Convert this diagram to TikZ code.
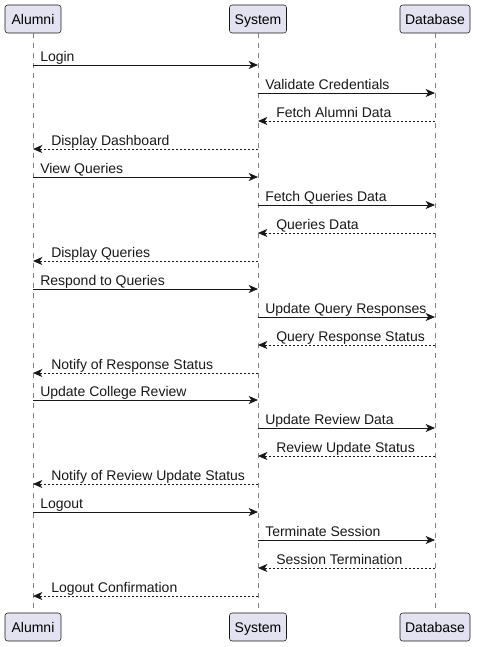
\documentclass[tikz,border=0pt]{standalone}
\usepackage{fontspec}
\setmainfont{Liberation Sans}
\usetikzlibrary{arrows.meta,calc}
\definecolor{boxfill}{HTML}{E2E2F0}
\definecolor{ink}{HTML}{181818}
\begin{document}
\begin{tikzpicture}[x=0.75pt,y=-0.75pt,
  party/.style={draw=ink,fill=boxfill,rounded corners=2pt,minimum height=21pt,inner xsep=0pt,text height=7.6pt,text depth=0pt,font=\fontsize{10.5}{12}\selectfont},
  life/.style={draw=ink!55,dash pattern=on 3.75pt off 3.75pt,line width=0.5pt},
  msg/.style={draw=ink,-{Stealth[length=7pt,width=6pt,inset=2pt]},line width=0.6pt},
  ret/.style={msg,dash pattern=on 1.5pt off 1.5pt},
  lbl/.style={font=\fontsize{10.5}{12}\selectfont,anchor=base west,inner sep=0pt,text=ink}]
\useasboundingbox (0,0) rectangle (476,647);
\node[party,minimum width=42pt] (alumniTop) at (33,19) {Alumni};
\node[party,minimum width=42.75pt] (systemTop) at (258,19) {System};
\node[party,minimum width=52.5pt] (dbTop) at (435,19) {Database};
\node[party,minimum width=42pt] (alumniBot) at (33,627) {Alumni};
\node[party,minimum width=42.75pt] (systemBot) at (258,627) {System};
\node[party,minimum width=52.5pt] (dbBot) at (435,627) {Database};
\draw[life] (alumniTop) -- (alumniBot);
\draw[life] (systemTop) -- (systemBot);
\draw[life] (dbTop) -- (dbBot);
% requests
\foreach \y/\s/\t/\txt in {65/alumniTop/systemTop/Login,
    93/systemTop/dbTop/Validate Credentials,
    177/alumniTop/systemTop/View Queries,
    205/systemTop/dbTop/Fetch Queries Data,
    289/alumniTop/systemTop/Respond to Queries,
    317/systemTop/dbTop/Update Query Responses,
    400/alumniTop/systemTop/Update College Review,
    428/systemTop/dbTop/Update Review Data,
    512/alumniTop/systemTop/Logout,
    540/systemTop/dbTop/Terminate Session}{
  \draw[msg] (\s |- 0,\y) coordinate (from) -- (\t |- 0,\y);
  \node[lbl] at ($(from)+(7,-4)$) {\txt};
}
% replies
\foreach \y/\s/\t/\txt in {121/dbTop/systemTop/Fetch Alumni Data,
    149/systemTop/alumniTop/Display Dashboard,
    233/dbTop/systemTop/Queries Data,
    261/systemTop/alumniTop/Display Queries,
    345/dbTop/systemTop/Query Response Status,
    373/systemTop/alumniTop/Notify of Response Status,
    456/dbTop/systemTop/Review Update Status,
    484/systemTop/alumniTop/Notify of Review Update Status,
    568/dbTop/systemTop/Session Termination,
    596/systemTop/alumniTop/Logout Confirmation}{
  \draw[ret] (\s |- 0,\y) -- (\t |- 0,\y) coordinate (to);
  \node[lbl] at ($(to)+(18,-4)$) {\txt};
}
\end{tikzpicture}
\end{document}
